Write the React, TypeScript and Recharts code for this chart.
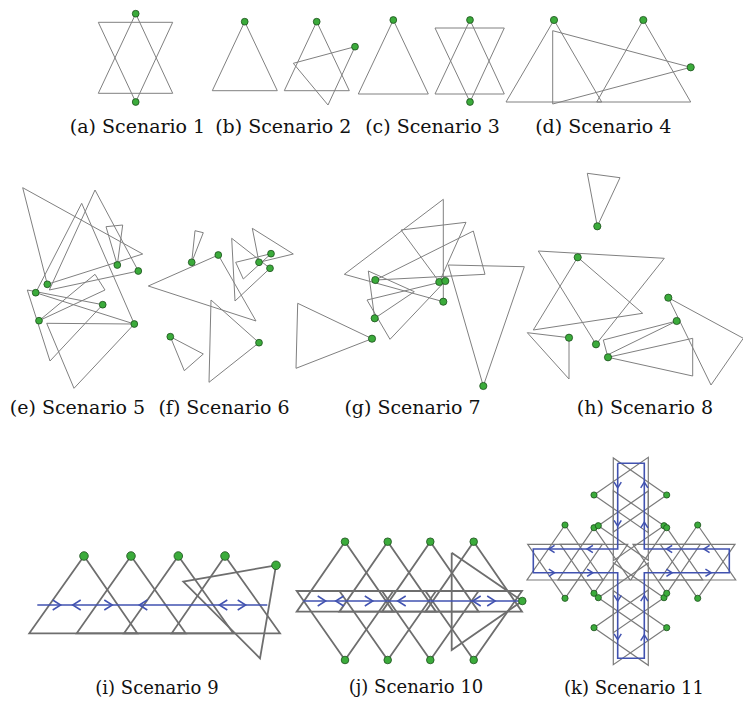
import React from "react";
import { ScatterChart, Scatter, XAxis, YAxis } from "recharts";

type Pt = [number, number];
type Arrow = [number, number, "L" | "R" | "U" | "D"];

// ---- geometry of each scenario (picture units, y grows downward) ----
const s1Triangles: Pt[][] = [
  [[135.7, 13.7], [98.3, 93.3], [172.7, 93.3]],
  [[98.3, 22.3], [172.7, 22.3], [135.7, 102]],
];
const s1Robots: Pt[] = [[135.7, 13.7], [135.7, 102]];

const s2Triangles: Pt[][] = [
  [[244.7, 21.7], [212.3, 90.7], [277.3, 90.7]],
  [[316.7, 21.7], [284.3, 90.7], [349.3, 90.7]],
  [[355, 46.7], [293.3, 63.3], [328, 105]],
];
const s2Robots: Pt[] = [[244.7, 21.7], [316.7, 21.7], [355, 46.7]];

const s3Triangles: Pt[][] = [
  [[393.3, 20], [358.3, 94], [428.3, 94]],
  [[470, 20], [435, 94], [504.3, 94]],
  [[435, 28], [504.3, 28], [470, 102]],
];
const s3Robots: Pt[] = [[393.3, 20], [470, 20], [470, 102]];

const s4Triangles: Pt[][] = [
  [[554, 20], [506, 102], [601.7, 102]],
  [[643.3, 20], [596.7, 102], [690.7, 102]],
  [[552.7, 30.7], [552.7, 104], [690.7, 67.3]],
];
const s4Robots: Pt[] = [[554, 20], [643.3, 20], [690.7, 67.3]];

const s5Triangles: Pt[][] = [
  [[22.7, 187.7], [142.7, 254], [47.3, 284.3]],
  [[95, 190], [138.3, 271], [49.3, 290]],
  [[81.7, 203.3], [134.3, 324], [35.7, 292.7]],
  [[106, 226.7], [122.7, 225], [117.3, 265]],
  [[46.7, 323.3], [134.3, 324], [74, 388.3]],
  [[39, 320.7], [95, 274.3], [105, 290]],
  [[27.3, 290], [102.7, 304.7], [50, 361]],
];
const s5Robots: Pt[] = [
  [47.3, 284.3], [35.7, 292.7], [39, 320.7], [117.3, 265],
  [138.3, 271], [102.7, 304.7], [134.3, 324],
];

const s6Triangles: Pt[][] = [
  [[195, 230.7], [203.3, 232.7], [191.7, 262.3]],
  [[218.3, 255], [148.3, 286], [256, 321]],
  [[231.7, 238.3], [235, 301], [270, 268.3]],
  [[252.3, 228.3], [293.3, 254], [259, 262.3]],
  [[271, 253.7], [235.7, 262.3], [243.3, 279]],
  [[170.3, 336.7], [203.3, 354], [184.3, 370.7]],
  [[259, 342.7], [211, 300], [209, 382.3]],
];
const s6Robots: Pt[] = [
  [191.7, 262.3], [218.3, 255], [259, 262.3], [271, 253.7],
  [270, 268.3], [170.3, 336.7], [259, 342.7],
];

const s7Triangles: Pt[][] = [
  [[297.7, 303.3], [296, 368.3], [372, 338.7]],
  [[448.3, 265], [524.3, 266.7], [483.3, 386]],
  [[344.3, 274.3], [443.3, 199.3], [443.3, 301.7]],
  [[401, 230], [466, 222.3], [439.3, 282]],
  [[473.3, 231], [485, 274.3], [375.3, 280]],
  [[368.3, 271], [414.3, 291.7], [374.7, 318.3]],
  [[367, 300], [445.3, 281], [390, 339.3]],
];
const s7Robots: Pt[] = [
  [375.3, 280], [439.3, 282], [445.3, 281], [443.3, 301.7],
  [374.7, 318.3], [372, 338.7], [483.3, 386],
];

const s8Triangles: Pt[][] = [
  [[587.3, 173.3], [620, 177.7], [597.3, 226.3]],
  [[538.3, 251], [664.3, 258.3], [596, 344.3]],
  [[577.7, 257.3], [642.7, 313.3], [533.3, 330]],
  [[527.3, 332.7], [569, 337.7], [569, 379]],
  [[668.3, 297.7], [743.3, 338.3], [711, 385]],
  [[676.7, 321], [603.3, 340], [607.3, 355]],
  [[608, 357.3], [692.7, 338.3], [692.7, 376]],
];
const s8Robots: Pt[] = [
  [597.3, 226.3], [577.7, 257.3], [668.3, 297.7], [676.7, 321],
  [569, 337.7], [596, 344.3], [608, 357.3],
];

const s9Triangles: Pt[][] = [
  [[84, 556], [29.3, 633.3], [137.3, 633.3]],
  [[131, 556], [76.7, 633.3], [185.7, 633.3]],
  [[178.3, 556], [124, 633.3], [233.3, 633.3]],
  [[225, 556], [171.7, 633.3], [280, 633.3]],
  [[276, 565.3], [183.3, 581.7], [260, 658.3]],
];
const s9Robots: Pt[] = [[84, 556], [131, 556], [178.3, 556], [225, 556], [276, 565.3]];
const s9Path: Pt[] = [[37.3, 605], [267.3, 605]];
const s9Arrows: Arrow[] = [
  [56.7, 605, "R"], [76.7, 605, "L"], [108.3, 605, "R"],
  [143.3, 605, "L"], [223.3, 605, "L"], [241.7, 605, "R"],
];

const s10Triangles: Pt[][] = [
  [[345, 541.7], [296.7, 611.7], [393.3, 611.7]],
  [[387.7, 541.7], [339.4, 611.7], [436, 611.7]],
  [[430.3, 541.7], [382, 611.7], [478.6, 611.7]],
  [[473.7, 541.7], [425.4, 611.7], [522, 611.7]],
  [[345, 660], [296.7, 591], [393.3, 591]],
  [[387.7, 660], [339.4, 591], [436, 591]],
  [[430.3, 660], [382, 591], [478.6, 591]],
  [[473.7, 660], [425.4, 591], [522, 591]],
  [[451.7, 552.7], [451.7, 650], [522.3, 601]],
];
const s10Robots: Pt[] = [
  [345, 541.7], [387.7, 541.7], [430.3, 541.7], [473.7, 541.7],
  [345, 660], [387.7, 660], [430.3, 660], [473.7, 660], [522.3, 601],
];
const s10Path: Pt[] = [[303.3, 601], [518.3, 601]];
const s10Arrows: Arrow[] = [
  [321.7, 601, "R"], [339.7, 601, "L"], [368.8, 601, "R"],
  [401.7, 601, "L"], [476.7, 601, "L"], [491.2, 601, "R"],
];

const s11Triangles: Pt[][] = [
  [[594, 495], [648.3, 457.3], [648.3, 532.7]],
  [[666.7, 495], [613.3, 458], [613.3, 532]],
  [[598.3, 525.7], [648.3, 491], [648.3, 560.3]],
  [[664, 525.7], [613.3, 490.7], [613.3, 560.7]],
  [[598.3, 597.7], [648.3, 563], [648.3, 632.3]],
  [[664, 597.7], [613.3, 562.7], [613.3, 632.7]],
  [[594, 627.7], [648.3, 590], [648.3, 665.3]],
  [[666.7, 627.7], [613.3, 590.7], [613.3, 664.7]],
  [[565, 525], [527, 580], [603, 580]],
  [[594, 527.7], [558, 580], [630, 580]],
  [[666.7, 527.7], [630.7, 580], [702.7, 580]],
  [[697.7, 525], [659.7, 580], [735.7, 580]],
  [[565, 598.3], [527.7, 544.3], [602.3, 544.3]],
  [[594, 593.3], [560.3, 544.3], [627.7, 544.3]],
  [[666.7, 593.3], [633, 544.3], [700.3, 544.3]],
  [[697.7, 598.3], [660.3, 544.3], [735, 544.3]],
];
const s11Robots: Pt[] = [
  [594, 495], [666.7, 495],
  [565, 525], [594, 527.7], [598.3, 525.7], [664, 525.7], [666.7, 527.7], [697.7, 525],
  [565, 598.3], [594, 593.3], [598.3, 597.7], [664, 597.7], [666.7, 593.3], [697.7, 598.3],
  [594, 627.7], [666.7, 627.7],
];
const s11Path: Pt[] = [
  [617.7, 463.3], [644.3, 463.3], [644.3, 549], [729.3, 549], [729.3, 572.7],
  [644.3, 572.7], [644.3, 658.3], [617.7, 658.3], [617.7, 572.7], [533.3, 572.7],
  [533.3, 549], [617.7, 549], [617.7, 463.3],
];
const s11Arrows: Arrow[] = [
  [551.7, 549, "L"], [590, 549, "L"], [669.3, 549, "L"], [706.7, 549, "L"],
  [551.7, 572.7, "R"], [590, 572.7, "R"], [669.3, 572.7, "R"], [708.3, 572.7, "R"],
  [617.7, 485, "D"], [617.7, 523.3, "D"], [617.7, 598.3, "D"], [617.7, 636.7, "D"],
  [644.3, 485, "U"], [644.3, 525, "U"], [644.3, 598.3, "U"], [644.3, 637.7, "U"],
];

const captions = [
  "(a) Scenario 1", "(b) Scenario 2", "(c) Scenario 3", "(d) Scenario 4",
  "(e) Scenario 5", "(f) Scenario 6", "(g) Scenario 7", "(h) Scenario 8",
  "(i) Scenario 9", "(j) Scenario 10", "(k) Scenario 11",
];

// ---- layout / styling ----
const W = 743;
const H = 702;
const BLUE = "#4152b0";
const GREEN = "#3bab3b";
const GREEN_EDGE = "#1d4f1d";

const captionPos: [number, number, number][] = [
  [137.5, 132.5, 19], [283.3, 132.5, 19], [432.5, 132.5, 19], [603.3, 132.5, 19],
  [77.5, 414, 19], [224, 414, 19], [412.5, 414, 19], [645, 414, 19],
  [157, 694, 18], [416, 693, 18], [634, 694, 18],
];

const panels = [
  { tris: s1Triangles, robots: s1Robots, stroke: "#808080", sw: 1, r: 3.4 },
  { tris: s2Triangles, robots: s2Robots, stroke: "#808080", sw: 1, r: 3.4 },
  { tris: s3Triangles, robots: s3Robots, stroke: "#808080", sw: 1, r: 3.4 },
  { tris: s4Triangles, robots: s4Robots, stroke: "#808080", sw: 1, r: 3.6 },
  { tris: s5Triangles, robots: s5Robots, stroke: "#808080", sw: 1, r: 3.4 },
  { tris: s6Triangles, robots: s6Robots, stroke: "#808080", sw: 1, r: 3.4 },
  { tris: s7Triangles, robots: s7Robots, stroke: "#808080", sw: 1, r: 3.6 },
  { tris: s8Triangles, robots: s8Robots, stroke: "#808080", sw: 1, r: 3.6 },
  { tris: s9Triangles, robots: s9Robots, stroke: "#6e6e6e", sw: 1.8, r: 4.3, path: s9Path, arrows: s9Arrows, ah: 5 },
  { tris: s10Triangles, robots: s10Robots, stroke: "#6e6e6e", sw: 1.8, r: 3.8, path: s10Path, arrows: s10Arrows, ah: 5 },
  { tris: s11Triangles, robots: s11Robots, stroke: "#7a7a7a", sw: 1.2, r: 3.1, path: s11Path, arrows: s11Arrows, ah: 3.6 },
];

const toRows = (pts: Pt[]) => pts.map(([x, y]) => ({ x, y }));
const closed = (pts: Pt[]) => toRows([...pts, pts[0]]);

const NoDot = () => <g />;

const makeRobot = (r: number) => (p: any) => (
  <circle cx={p.cx} cy={p.cy} r={r} fill={GREEN} stroke={GREEN_EDGE} strokeWidth={0.8} />
);

const makeChevron = (s: number) => (p: any) => {
  const { cx, cy, payload } = p;
  const d = s * 0.8;
  let path = "";
  if (payload.dir === "R") path = `M${cx - d},${cy - s}L${cx + d},${cy}L${cx - d},${cy + s}`;
  if (payload.dir === "L") path = `M${cx + d},${cy - s}L${cx - d},${cy}L${cx + d},${cy + s}`;
  if (payload.dir === "D") path = `M${cx - s},${cy - d}L${cx},${cy + d}L${cx + s},${cy - d}`;
  if (payload.dir === "U") path = `M${cx - s},${cy + d}L${cx},${cy - d}L${cx + s},${cy + d}`;
  return <path d={path} fill="none" stroke={BLUE} strokeWidth={1.5} />;
};

export default function App() {
  const series: React.ReactNode[] = [];
  panels.forEach((pn, i) => {
    pn.tris.forEach((t, j) => {
      series.push(
        <Scatter
          key={`t${i}-${j}`}
          data={closed(t)}
          line={{ stroke: pn.stroke, strokeWidth: pn.sw }}
          lineType="joint"
          shape={NoDot}
          isAnimationActive={false}
        />
      );
    });
  });
  panels.forEach((pn, i) => {
    if (pn.path) {
      series.push(
        <Scatter
          key={`p${i}`}
          data={toRows(pn.path)}
          line={{ stroke: BLUE, strokeWidth: 1.6 }}
          lineType="joint"
          shape={NoDot}
          isAnimationActive={false}
        />
      );
    }
    if (pn.arrows) {
      series.push(
        <Scatter
          key={`a${i}`}
          data={pn.arrows.map(([x, y, dir]) => ({ x, y, dir }))}
          shape={makeChevron(pn.ah as number)}
          isAnimationActive={false}
        />
      );
    }
  });
  panels.forEach((pn, i) => {
    series.push(
      <Scatter
        key={`r${i}`}
        data={toRows(pn.robots)}
        shape={makeRobot(pn.r)}
        isAnimationActive={false}
      />
    );
  });

  return (
    <div style={{ position: "absolute", left: 0, top: 0, width: W, height: H, background: "#fff" }}>
      <ScatterChart width={W} height={H} margin={{ top: 0, right: 0, bottom: 0, left: 0 }}>
        <XAxis type="number" dataKey="x" domain={[0, W]} allowDataOverflow hide />
        <YAxis type="number" dataKey="y" domain={[0, H]} allowDataOverflow reversed hide />
        {series}
      </ScatterChart>
      <svg width={W} height={H} style={{ position: "absolute", left: 0, top: 0, pointerEvents: "none" }}>
        {captions.map((c, i) => (
          <text
            key={c}
            x={captionPos[i][0]}
            y={captionPos[i][1]}
            textAnchor="middle"
            fontFamily="'DejaVu Serif', serif"
            fontSize={captionPos[i][2]}
            fill="#111"
          >
            {c}
          </text>
        ))}
      </svg>
    </div>
  );
}
